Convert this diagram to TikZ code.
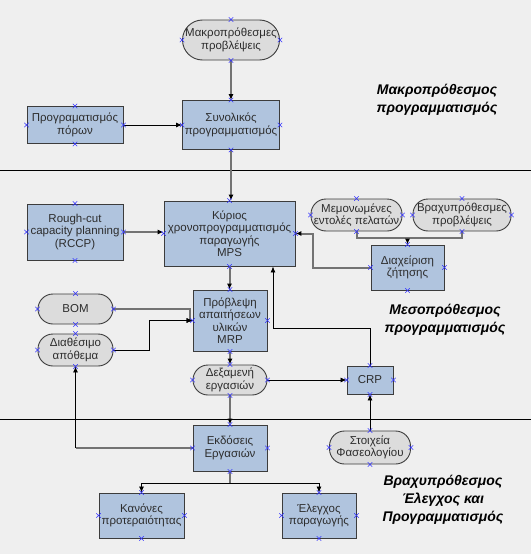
\documentclass[tikz,border=0pt]{standalone}
\usepackage{fontspec}
\setmainfont{Liberation Sans}
\usetikzlibrary{arrows.meta, positioning, shapes.misc, calc}
\definecolor{cBg}{RGB}{239,239,239}
\definecolor{cBox}{RGB}{176,196,222}
\definecolor{cTerm}{RGB}{220,220,220}
\definecolor{cEdge}{RGB}{60,60,60}
\definecolor{cText}{RGB}{45,45,45}
\definecolor{cLine}{RGB}{115,115,115}
\tikzset{
  basebox/.style={rectangle, draw=cEdge, line width=0.9pt, align=center,
                  text=cText, font=\fontsize{11.5}{12.5}\selectfont, inner sep=1pt},
  procnode/.style={basebox, fill=cBox},
  termnode/.style={basebox, fill=cTerm, rounded corners=15pt},
  zonelabel/.style={align=center, font=\fontsize{14}{18}\selectfont\bfseries\itshape},
  zoneline/.style={line width=0.9pt, black},
  grayline/.style={line width=2pt, color=cLine},
  grayarrow/.style={grayline, -{Latex[length=6pt,width=5pt,color=black]}},
  blackline/.style={line width=0.8pt, black},
  blackarrow/.style={blackline, -{Latex[length=6pt,width=5pt]}},
  xmk/.style={cross out, draw=blue!80, line width=0.5pt, minimum size=4pt, inner sep=0pt}
}

\begin{document}
\begin{tikzpicture}[x=1pt, y=-1pt]
  \fill[cBg] (0,0) rectangle (531,554);
  \useasboundingbox (0,0) rectangle (531,554);
  \draw[zoneline] (0,170) -- (531,170);
  \draw[zoneline] (0,419) -- (531,419);

  % long-term level
  \node[termnode, minimum width=97pt, minimum height=40pt, rounded corners=20pt] (macrofc) at (231,40) {Μακροπρόθεσμες\\προβλέψεις};
  \node[procnode, minimum width=97pt, minimum height=49pt] (aggplan) at (231,125) {Συνολικός\\προγραμματισμός};
  \node[procnode, minimum width=96pt, minimum height=37pt] (resplan) at (75,125) {Προγραματισμός\\πόρων};
  \node[zonelabel] (lblmacro) at (437,100) {Μακροπρόθεσμος\\προγραμματισμός};

  % medium-term level
  \node[procnode, minimum width=96pt, minimum height=56pt] (rccp) at (75,232) {Rough-cut\\capacity planning\\(RCCP)};
  \node[procnode, minimum width=131pt, minimum height=65pt] (mps) at (229.5,233.5) {Κύριος\\χρονοπρογραμματισμός\\παραγωγής\\MPS};
  \node[termnode, minimum width=91pt, minimum height=32pt] (orders) at (356.5,215) {Μεμονωμένες\\εντολές πελατών};
  \node[termnode, minimum width=98pt, minimum height=32pt] (shortfc) at (462,215) {Βραχυπρόθεσμες\\προβλέψεις};
  \node[procnode, minimum width=73pt, minimum height=45pt] (demand) at (407.5,267.5) {Διαχείριση\\ζήτησης};
  \node[termnode, minimum width=75pt, minimum height=30pt] (bom) at (75.5,309) {BOM};
  \node[termnode, minimum width=75pt, minimum height=32pt] (stock) at (75.5,350) {Διαθέσιμο\\απόθεμα};
  \node[procnode, minimum width=74pt, minimum height=61pt] (mrp) at (230,320.5) {Πρόβλεψη\\απαιτήσεων\\υλικών\\MRP};
  \node[termnode, minimum width=74pt, minimum height=30pt] (queue) at (230,380) {Δεξαμενή\\εργασιών};
  \node[procnode, minimum width=46pt, minimum height=28pt] (crp) at (370,380) {CRP};
  \node[zonelabel] (lblmid) at (445,320) {Μεσοπρόθεσμος\\προγραμματισμός};

  % short-term level
  \node[procnode, minimum width=74pt, minimum height=46pt] (release) at (230,448) {Εκδόσεις\\Εργασιών};
  \node[termnode, minimum width=81pt, minimum height=33pt] (routing) at (370,447.5) {Στοιχεία\\Φασεολογίου};
  \node[procnode, minimum width=85pt, minimum height=45pt] (priority) at (141.5,515.5) {Κανόνες\\προτεραιότητας};
  \node[procnode, minimum width=74pt, minimum height=45pt] (shopctl) at (319,515.5) {Έλεγχος\\παραγωγής};
  \node[zonelabel] (lblshort) at (443,500) {Βραχυπρόθεσμος\\Έλεγχος και\\Προγραμματισμός};

  % connectors
  \draw[grayarrow] (macrofc) -- (aggplan);
  \draw[blackarrow] (resplan) -- (aggplan);
  \draw[grayarrow] (aggplan.south) -- (aggplan.south |- mps.north);
  \draw[grayarrow] (rccp.east) -- (rccp.east -| mps.west);
  \coordinate (dmdjoin) at (407.5,238);
  \draw[grayline] (orders.south) |- (dmdjoin);
  \draw[grayline] (shortfc.south) |- (dmdjoin);
  \draw[grayarrow] (dmdjoin) -- (demand.north);
  \draw[grayarrow] (demand.west) -- ++(-58,0) |- (mps.east);
  \draw[grayarrow] (mps.south) -- (mps.south |- mrp.north);
  \draw[grayarrow] (bom.east) -| ([xshift=-3pt]mrp.west) -- (mrp.west);
  \draw[blackarrow] (stock.east) -- ++(36,0) |- (mrp.west);
  \draw[grayarrow] (mrp.south) -- (queue.north);
  \draw[blackarrow] (queue.east) -- (crp.west);
  \draw[blackarrow] (crp.north) -- ++(0,-37) -| ([xshift=43.5pt]mps.south);
  \draw[blackarrow] (routing.north) -- (crp.south);
  \draw[grayarrow] (queue.south) -- (release.north);
  \draw[grayline] (release.west) -- (release.west -| stock.south);
  \draw[blackarrow] (release.west -| stock.south) -- (stock.south);
  \coordinate (relsplit) at (230,483);
  \draw[grayline] (release.south) -- (relsplit);
  \draw[blackarrow] (relsplit) -| (priority.north);
  \draw[blackarrow] (relsplit) -| (shopctl.north);

  % connection points
  \foreach \n in {macrofc,aggplan,resplan,rccp,mps,orders,shortfc,demand,bom,stock,mrp,queue,crp,release,routing,priority,shopctl}
    \foreach \a in {north,south,east,west}
      \node[xmk] at (\n.\a) {};
\end{tikzpicture}
\end{document}
